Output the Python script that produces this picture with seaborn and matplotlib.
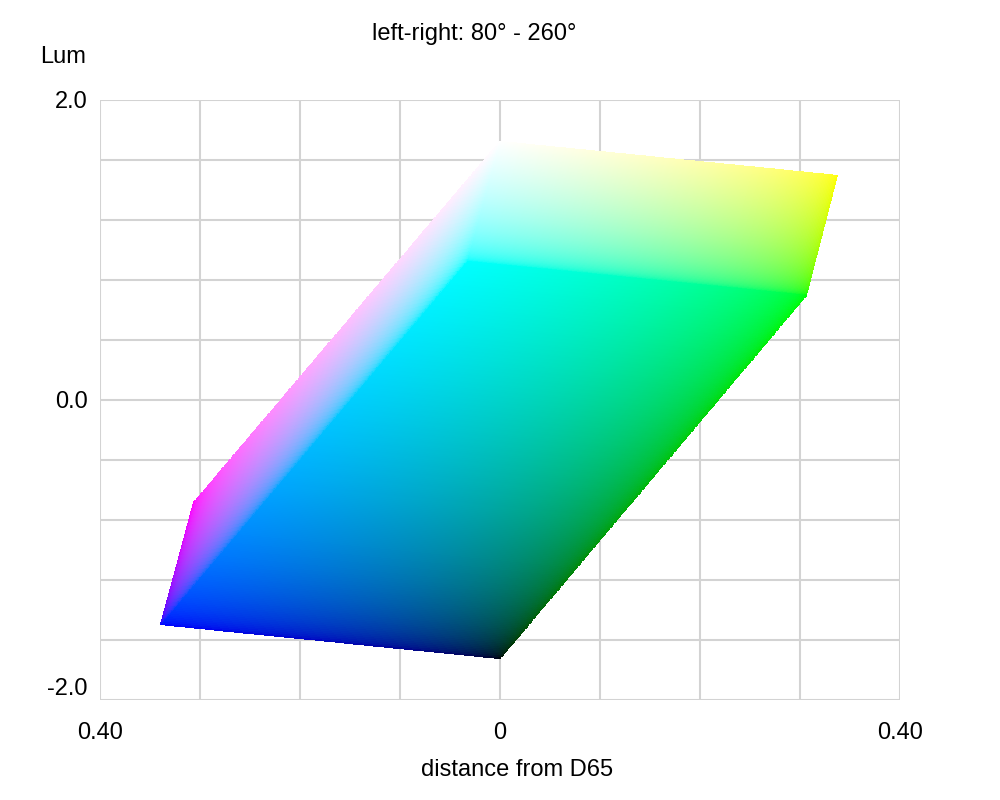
import numpy as np
import matplotlib
matplotlib.use("Agg")
import matplotlib.pyplot as plt
import seaborn as sns

# RGB cube corners projected: (distance from D65, luminance)
corner_names = ["black", "blue", "green", "cyan", "magenta", "white", "yellow"]
corner_x = [0.000, -0.340, 0.307, -0.033, -0.307, 0.000, 0.338]
corner_y = [-1.727, -1.500, 0.700, 0.927, -0.687, 1.727, 1.500]
corner_rgb = {
    "black": (0, 0, 0), "blue": (0, 0, 1), "green": (0, 1, 0),
    "cyan": (0, 1, 1), "magenta": (1, 0, 1), "white": (1, 1, 1),
    "yellow": (1, 1, 0),
}
# visible faces, corners at (u,v) = (0,0), (1,0), (0,1), (1,1)
faces = [
    ("black", "blue", "green", "cyan"),
    ("blue", "magenta", "cyan", "white"),
    ("cyan", "white", "green", "yellow"),
]

x_ticks = [-0.4, 0.0, 0.4]
x_tick_labels = ["0.40", "0", "0.40"]
y_ticks = [-2.0, 0.0, 2.0]
y_tick_labels = ["-2.0", "0.0", "2.0"]

sns.set_style("white")
plt.rcParams["font.family"] = ["Liberation Sans", "DejaVu Sans"]
plt.rcParams["text.color"] = "black"
FS = 17

fig = plt.figure(figsize=(10, 8), dpi=100)
ax = fig.add_axes([0.1, 0.125, 0.8, 0.75])

pos = {n: np.array([x, y]) for n, x, y in zip(corner_names, corner_x, corner_y)}
n = 220
u = np.linspace(0, 1, n + 1)
U, V = np.meshgrid(u, u)
uc = (u[:-1] + u[1:]) / 2
Uc, Vc = np.meshgrid(uc, uc)


def bilerp(a, b, c, d, s, t):
    return (a * (1 - s) * (1 - t) + b * s * (1 - t)
            + c * (1 - s) * t + d * s * t)


def srgb_encode(c):
    c = np.clip(c, 0, 1)
    return np.where(c <= 0.0031308, 12.92 * c, 1.055 * c ** (1 / 2.4) - 0.055)


for f in faces:
    p = [pos[k] for k in f]
    X = bilerp(p[0][0], p[1][0], p[2][0], p[3][0], U, V)
    Y = bilerp(p[0][1], p[1][1], p[2][1], p[3][1], U, V)
    cols = [np.array(corner_rgb[k], dtype=float) for k in f]
    # mix in linear light, then encode for display
    C = np.stack([bilerp(cols[0][i], cols[1][i], cols[2][i], cols[3][i], Uc, Vc)
                  for i in range(3)], axis=-1)
    ax.pcolormesh(X, Y, np.clip(srgb_encode(C), 0, 1), shading="flat",
                  antialiased=False, linewidth=0, edgecolors="none",
                  rasterized=True, zorder=3)

ax.set_xlim(-0.4, 0.4)
ax.set_ylim(-2.0, 2.0)
ax.set_xticks(x_ticks)
ax.set_xticklabels(x_tick_labels)
ax.set_yticks(y_ticks)
ax.set_yticklabels(y_tick_labels)
ax.set_xticks(np.arange(-0.4, 0.41, 0.1), minor=True)
ax.set_yticks(np.arange(-2.0, 2.01, 0.4), minor=True)
ax.grid(True, which="both", color="#d3d3d3", linewidth=1.5, zorder=0)
ax.set_axisbelow(True)
for s in ax.spines.values():
    s.set_visible(False)
ax.tick_params(which="both", length=0, labelsize=FS, colors="black")
ax.tick_params(axis="x", pad=16)
ax.tick_params(axis="y", pad=9)
ax.get_yticklabels()[0].set_va("bottom")

ax.set_xlabel("distance from D65", fontsize=FS, color="black")
ax.xaxis.set_label_coords(0.521, -0.099)
ax.set_ylabel("Lum", fontsize=FS, rotation=0, ha="center", va="center",
              color="black")
ax.yaxis.set_label_coords(-0.046, 1.072)
fig.text(0.474, 0.958, "left-right: 80° - 260°", ha="center", va="center",
         fontsize=FS)

fig.savefig("out.png", dpi=100)
